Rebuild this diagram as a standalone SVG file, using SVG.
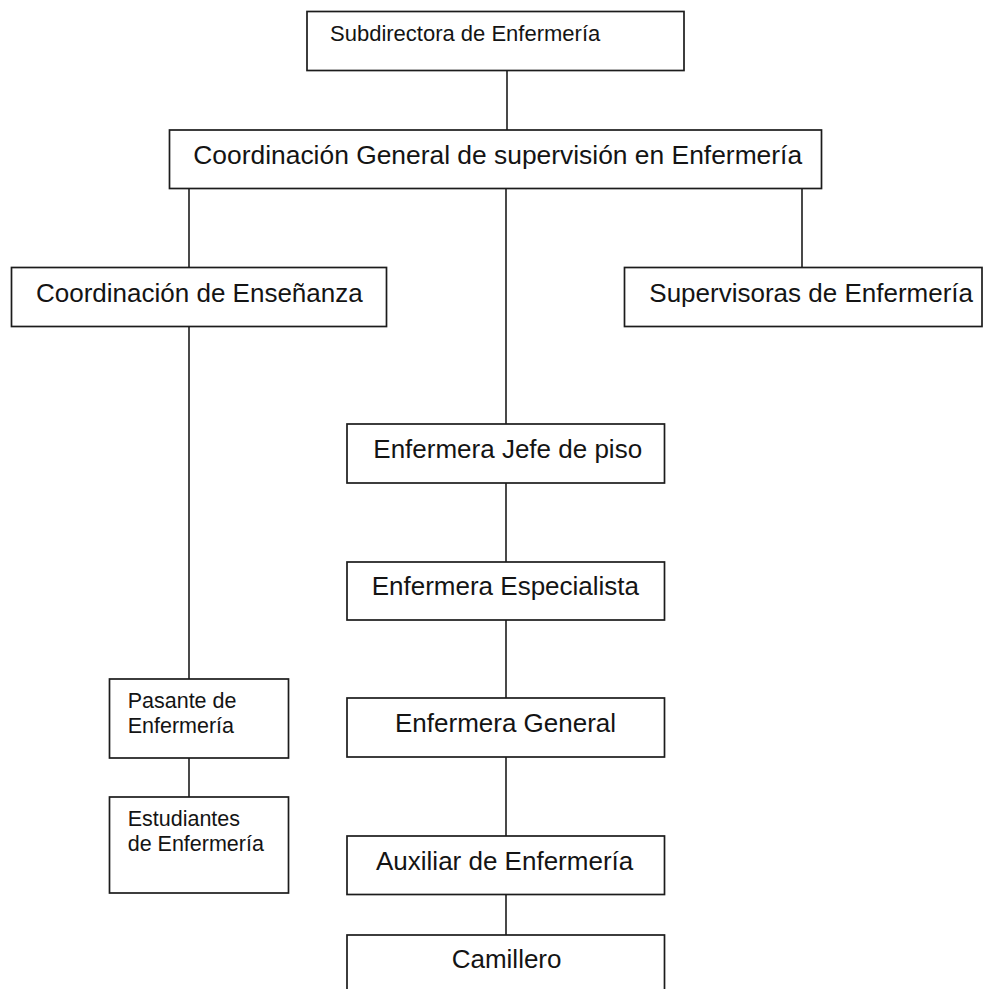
<svg xmlns="http://www.w3.org/2000/svg" width="989" height="989" viewBox="0 0 989 989">
<style>
.box{fill:#fff;stroke:#1c1c1c;stroke-width:1.7}
.ln{stroke:#1c1c1c;stroke-width:1.6;fill:none}
.t{font-family:"Liberation Sans",Arial,sans-serif;font-size:26px;fill:#141414}
.s{font-family:"Liberation Sans",Arial,sans-serif;font-size:21.5px;fill:#141414}
</style>
<rect width="989" height="989" fill="#fff"/>
<g id="connectors">
<line class="ln" x1="507" y1="70.5" x2="507" y2="130"/>
<line class="ln" x1="506" y1="188.5" x2="506" y2="424"/>
<line class="ln" x1="506" y1="483" x2="506" y2="562"/>
<line class="ln" x1="506" y1="620" x2="506" y2="698"/>
<line class="ln" x1="506" y1="757" x2="506" y2="836"/>
<line class="ln" x1="506" y1="894.5" x2="506" y2="935"/>
<line class="ln" x1="189" y1="188.5" x2="189" y2="267.5"/>
<line class="ln" x1="189" y1="326.5" x2="189" y2="679"/>
<line class="ln" x1="189" y1="758" x2="189" y2="797"/>
<line class="ln" x1="802" y1="188.5" x2="802" y2="267.5"/>
</g>
<g id="subdirectora">
<rect class="box" x="307" y="11.5" width="377" height="59"/>
<text class="s" x="330" y="41" style="font-size:22px">Subdirectora de Enfermería</text>
</g>
<g id="coord-general">
<rect class="box" x="169.5" y="130" width="652" height="58.5"/>
<text class="t" x="193.3" y="163.5" style="font-size:26.4px">Coordinación General de supervisión en Enfermería</text>
</g>
<g id="coord-ensenanza">
<rect class="box" x="11.5" y="267.5" width="375" height="59"/>
<text class="t" x="36" y="301.7">Coordinación de Enseñanza</text>
</g>
<g id="supervisoras">
<rect class="box" x="624.5" y="267.5" width="357.5" height="59"/>
<text class="t" x="649.3" y="301.7">Supervisoras de Enfermería</text>
</g>
<g id="jefe-piso">
<rect class="box" x="347" y="424" width="317.5" height="59"/>
<text class="t" x="373.3" y="458.3">Enfermera Jefe de piso</text>
</g>
<g id="especialista">
<rect class="box" x="347" y="562" width="317.5" height="58"/>
<text class="t" x="371.7" y="595">Enfermera Especialista</text>
</g>
<g id="general">
<rect class="box" x="347" y="698" width="317.5" height="59"/>
<text class="t" x="395" y="732">Enfermera General</text>
</g>
<g id="auxiliar">
<rect class="box" x="347" y="836" width="317.5" height="58.5"/>
<text class="t" x="376" y="870">Auxiliar de Enfermería</text>
</g>
<g id="camillero">
<rect class="box" x="347" y="935" width="317.5" height="70"/>
<text class="t" x="451.7" y="968.3">Camillero</text>
</g>
<g id="pasante">
<rect class="box" x="109.5" y="679" width="179" height="79"/>
<text class="s" x="127.7" y="708.3">Pasante de</text>
<text class="s" x="127.7" y="733.3">Enfermería</text>
</g>
<g id="estudiantes">
<rect class="box" x="109.5" y="797" width="179" height="96"/>
<text class="s" x="127.7" y="825.7">Estudiantes</text>
<text class="s" x="127.7" y="850.7">de Enfermería</text>
</g>
</svg>
